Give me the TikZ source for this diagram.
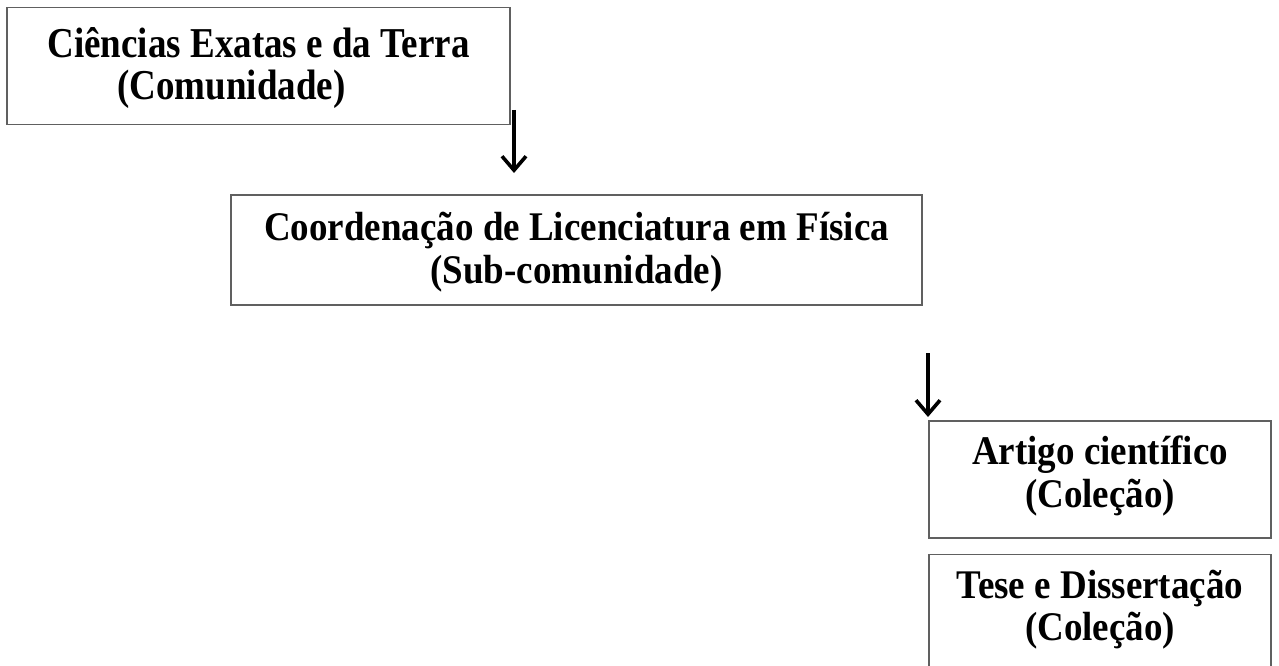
\documentclass[tikz,border=0pt]{standalone}
\usepackage{fontspec}
\setmainfont{Liberation Serif}
\usetikzlibrary{arrows.meta}
% #1 raise of last baseline, #2 vertical scale, #3 baselineskip, #4 line 1, #5 line 2
\newcommand{\boxtxt}[5]{\raisebox{#1}[0pt][0pt]{\scalebox{1}[#2]{\fontsize{37}{#3}\selectfont\bfseries
  \begin{tabular}[b]{@{}c@{}}#4\\#5\end{tabular}}}}
\begin{document}
\begin{tikzpicture}[x=1pt,y=-1pt,
  box/.style={draw=gray!75!black, line width=1.2pt, fill=white, inner sep=0pt},
  arr/.style={line width=3.6pt, -{Straight Barb[length=14pt,width=24pt,line width=3.6pt]}}]
\useasboundingbox (0,0) rectangle (1279,666);
\fill[white] (0,0) rectangle (1279,666);
\node[box, minimum width=503pt, minimum height=117pt] (a) at (258.5,66)
  {\boxtxt{-34pt}{1.15}{36.5pt}{Ciências Exatas e da Terra}{(Comunidade)\hspace*{54pt}}};
\node[box, minimum width=691pt, minimum height=110pt] (b) at (576.5,250)
  {\boxtxt{-33pt}{1.1}{39pt}{Coordenação de Licenciatura em Física}{(Sub-comunidade)}};
\node[box, minimum width=342pt, minimum height=117pt] (c) at (1100,479.5)
  {\boxtxt{-27.5pt}{1.1}{38.2pt}{Artigo científico}{(Coleção)}};
\node[box, minimum width=342pt, minimum height=116pt, anchor=north] (d) at (1100,554)
  {\boxtxt{-28pt}{1.1}{38.2pt}{Tese e Dissertação}{(Coleção)}};
\coordinate (a1) at (514,110);
\coordinate (a2) at (514,173);
\coordinate (b1) at (928,353);
\coordinate (b2) at (928,417);
\draw[arr] (a1) -- (a2);
\draw[arr] (b1) -- (b2);
\end{tikzpicture}
\end{document}
